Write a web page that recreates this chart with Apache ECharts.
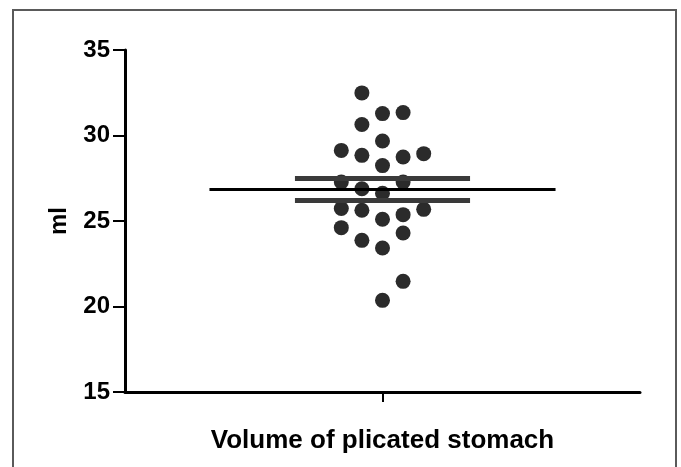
<!DOCTYPE html>
<html>
<head>
<meta charset="utf-8">
<script src="https://cdn.jsdelivr.net/npm/echarts@6/dist/echarts.min.js"></script>
<style>
  html, body { margin: 0; padding: 0; background: #fff; }
  #chart { width: 681px; height: 467px; }
</style>
</head>
<body>
<div id="chart"></div>
<script>
// measured volumes (ml), grouped by the column they are drawn in
const volumeValues = [
  29.13, 27.28, 25.73, 24.61,
  32.49, 30.64, 28.84, 26.89, 25.63, 23.87,
  31.28, 29.68, 28.24, 26.62, 25.1, 23.42, 20.36,
  31.34, 28.74, 27.28, 25.37, 24.3, 21.47,
  28.94, 25.68
];
// horizontal scatter offset of each point (column index)
const dotColumns = [
  -2, -2, -2, -2,
  -1, -1, -1, -1, -1, -1,
  0, 0, 0, 0, 0, 0, 0,
  1, 1, 1, 1, 1, 1,
  2, 2
];
const meanValue = 26.84;
const semValue = 0.64;
const yTicks = [15, 20, 25, 30, 35];

const MEAN_HALF_WIDTH = 8.4;
const SEM_HALF_WIDTH = 4.25;

const chart = echarts.init(document.getElementById("chart"));

const points = volumeValues.map((v, i) => [dotColumns[i], v]);

const hLine = (half, y) => [[-half, y], [half, y]];

chart.setOption({
  animation: false,
  backgroundColor: "#fff",
  grid: { left: 125, right: 41, top: 50, bottom: 75 },
  graphic: [
    {
      type: "rect",
      shape: { x: 13, y: 10, width: 663, height: 520 },
      style: { fill: null, stroke: "#5a5a5a", lineWidth: 2 },
      silent: true,
    },
  ],
  xAxis: {
    type: "value",
    min: -12.5,
    max: 12.5,
    name: "Volume of plicated stomach",
    nameLocation: "middle",
    nameGap: 36,
    nameTextStyle: {
      fontFamily: "Liberation Sans, Arial, sans-serif",
      fontWeight: "bold",
      fontSize: 26,
      color: "#000",
    },
    axisLine: { onZero: false, lineStyle: { color: "#000", width: 3 } },
    axisTick: { show: true, length: 10, customValues: [0], lineStyle: { color: "#000", width: 2 } },
    axisLabel: { show: false },
    splitLine: { show: false },
  },
  yAxis: {
    type: "value",
    min: yTicks[0],
    max: yTicks[yTicks.length - 1],
    interval: 5,
    name: "ml",
    nameLocation: "middle",
    nameGap: 54,
    nameTextStyle: {
      fontFamily: "Liberation Sans, Arial, sans-serif",
      fontWeight: "bold",
      fontSize: 24,
      color: "#000",
    },
    axisLine: { show: true, onZero: false, lineStyle: { color: "#000", width: 3 } },
    axisTick: { show: true, length: 12, lineStyle: { color: "#000", width: 2 } },
    axisLabel: {
      margin: 15,
      fontFamily: "Liberation Sans, Arial, sans-serif",
      fontWeight: "bold",
      fontSize: 24,
      color: "#000",
    },
    splitLine: { show: false },
  },
  series: [
    {
      type: "scatter",
      data: points,
      symbol: "circle",
      symbolSize: 15,
      itemStyle: { color: "#2b2b2b", opacity: 1 },
      z: 2,
    },
    {
      type: "line",
      data: hLine(SEM_HALF_WIDTH, meanValue + semValue),
      symbol: "none",
      lineStyle: { color: "#3a3a3a", width: 5 },
      z: 3,
    },
    {
      type: "line",
      data: hLine(SEM_HALF_WIDTH, meanValue - semValue),
      symbol: "none",
      lineStyle: { color: "#3a3a3a", width: 5 },
      z: 3,
    },
    {
      type: "line",
      data: hLine(MEAN_HALF_WIDTH, meanValue),
      symbol: "none",
      lineStyle: { color: "#000", width: 3 },
      z: 4,
    },
  ],
});
</script>
</body>
</html>
